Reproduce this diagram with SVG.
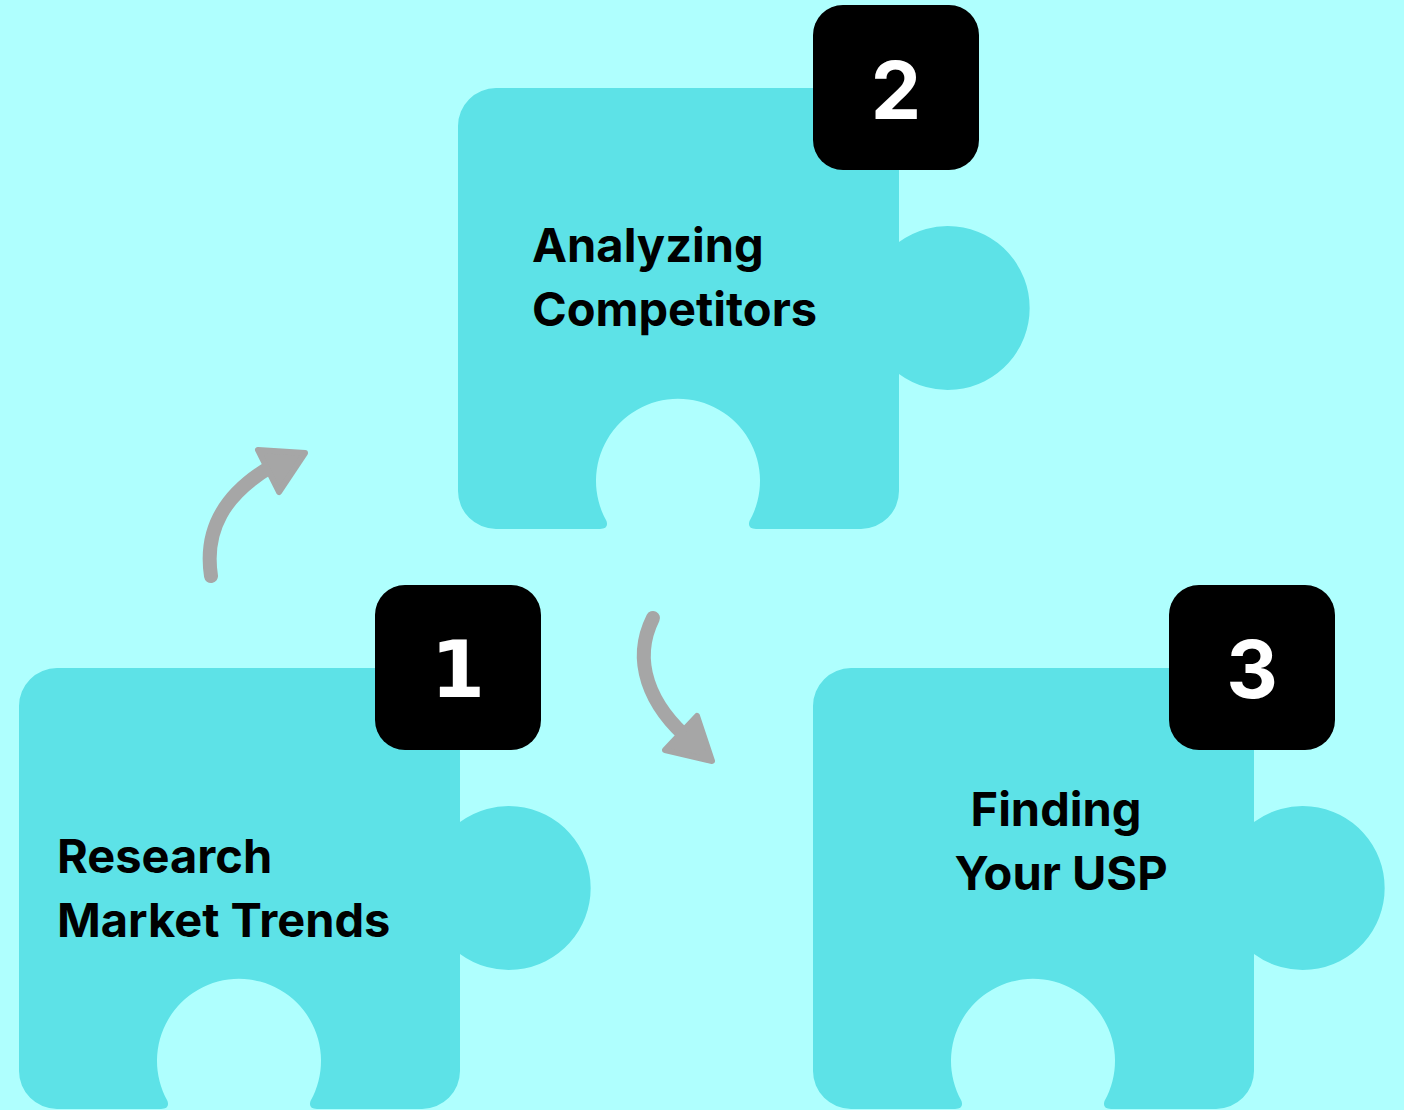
<svg xmlns="http://www.w3.org/2000/svg" width="1404" height="1110" viewBox="0 0 1404 1110">
<defs>
<style>
.piece{fill:#5DE2E7}
.badge{fill:#000000}
.num{font-family:Inter,"Liberation Sans",sans-serif;font-weight:700;font-size:80px;fill:#FFFFFF;text-anchor:middle}
.lbl{font-family:Inter,"Liberation Sans",sans-serif;font-weight:700;font-size:47px;fill:#000000}
.shaft{fill:none;stroke:#A6A6A6;stroke-width:14;stroke-linecap:round}
.head{fill:#A6A6A6;stroke:#A6A6A6;stroke-width:6;stroke-linejoin:round}
</style>
<path id="pz" d="M 38 0 H 403 A 38 38 0 0 1 441 38 V 154 A 82 82 0 1 1 441 286 V 403 A 38 38 0 0 1 403 441 H 298 Q 289 441 291.5 433 A 82 82 0 1 0 148.5 433 Q 151 441 142 441 H 38 A 38 38 0 0 1 0 403 V 38 A 38 38 0 0 1 38 0 Z"/>
</defs>
<rect x="0" y="0" width="1404" height="1110" fill="#AFFFFE"/>
<g id="connectors">
<path class="shaft" d="M 211 576 C 204 530 224 494 272 466"/>
<polygon class="head" points="258,450 305,453 279,492"/>
<path class="shaft" d="M 653 618 C 632 660 648 705 692 742"/>
<polygon class="head" points="665,750 697,716 712,761"/>
</g>
<g id="node-2">
<use href="#pz" class="piece" transform="translate(458,88)"/>
<rect class="badge" x="813" y="5" width="166" height="165" rx="30"/>
<text class="num" x="896" y="119">2</text>
<text class="lbl" x="532" y="262">Analyzing</text>
<text class="lbl" x="532" y="326">Competitors</text>
</g>
<g id="node-1">
<use href="#pz" class="piece" transform="translate(19,668)"/>
<rect class="badge" x="375" y="585" width="166" height="165" rx="30"/>
<text class="num" x="458" y="697" style="font-family:'DejaVu Sans',sans-serif;font-size:78px">1</text>
<text class="lbl" x="57" y="873">Research</text>
<text class="lbl" x="57" y="937">Market Trends</text>
</g>
<g id="node-3">
<use href="#pz" class="piece" transform="translate(813,668)"/>
<rect class="badge" x="1169" y="585" width="166" height="165" rx="30"/>
<text class="num" x="1252" y="698">3</text>
<text class="lbl" x="1056" y="826" text-anchor="middle">Finding</text>
<text class="lbl" x="1061" y="890" text-anchor="middle">Your USP</text>
</g>
</svg>
